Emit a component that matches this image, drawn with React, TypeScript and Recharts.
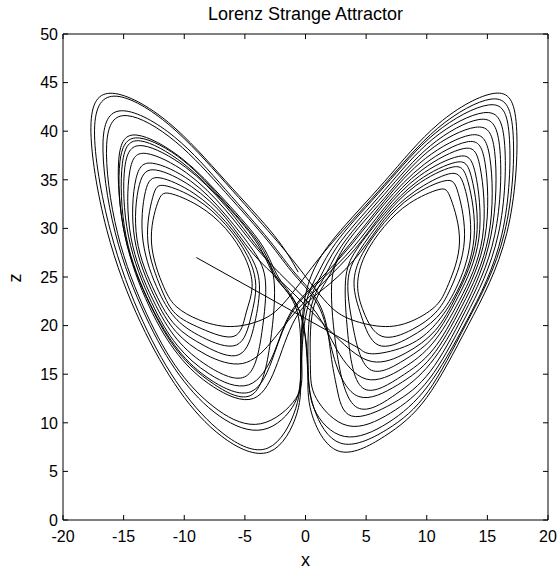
import React from "react";
import { LineChart, Line, XAxis, YAxis, ReferenceLine } from "recharts";

const TITLE = "Lorenz Strange Attractor";
const X_LABEL = "x";
const Z_LABEL = "z";
const xTicks = [-20, -15, -10, -5, 0, 5, 10, 15, 20];
const zTicks = [0, 5, 10, 15, 20, 25, 30, 35, 40, 45, 50];

// initial transient (straight jump)
const initialTransient: [number, number][] = [
  [-9.0, 27.0],
  [4.5, 17.6],
];

// trajectory, [x, z] in traversal order
const trajectory: [number, number][] = [
  [4.5, 17.6],
  // right
  [5.7, 17.1], [8.5, 18.0], [10.7, 20.1], [12.5, 23.5], [13.9, 29.0], [13.4, 34.8], [12.1, 36.3], [9.1, 34.4], [6.5, 31.2], [4.4, 27.6], [3.5, 24.5],
  [3.9, 20.0],
  [5.3, 15.5], [8.2, 16.5], [10.6, 18.9], [12.6, 23.0], [14.3, 29.0], [14.0, 35.7], [12.6, 37.4], [9.4, 35.4], [6.5, 31.8], [4.1, 27.9],
  [1.6, 24.6], [-0.9, 21.3], [-2.9, 18.2],
  // left
  [-5.2, 16.1], [-8.2, 17.0], [-10.7, 19.4], [-12.5, 23.1], [-14.1, 29.0], [-14.0, 35.0], [-12.6, 36.7], [-9.5, 34.9], [-6.6, 31.4], [-4.3, 27.7], [-3.3, 24.5],
  [-3.6, 19.3],
  [-4.9, 14.8], [-8.0, 15.8], [-10.6, 18.6], [-12.6, 22.7], [-14.4, 29.1], [-14.5, 35.8], [-13.1, 37.7], [-9.8, 35.7], [-6.6, 31.9], [-4.0, 27.9],
  [-1.5, 24.6], [0.9, 21.3], [2.6, 17.5],
  // right
  [5.0, 14.5], [8.0, 15.6], [10.5, 18.2], [12.7, 22.6], [14.6, 29.1], [14.4, 36.3], [13.0, 38.2], [9.6, 36.0], [6.5, 32.1], [3.9, 28.0],
  [1.3, 24.7], [-1.1, 21.4], [-2.6, 17.0],
  // left
  [-4.5, 13.2], [-7.8, 14.4], [-10.5, 17.5], [-12.8, 22.2], [-14.8, 29.2], [-15.1, 36.7], [-13.6, 39.0], [-10.1, 36.7], [-6.6, 32.5], [-3.8, 28.1], [-2.4, 24.8],
  [-0.5, 21.5], [0.15, 16.0], [0.7, 11.5],
  // right
  [2.9, 7.9], [6.7, 9.3], [10.1, 13.2], [13.3, 20.3], [16.4, 29.5], [17.1, 40.1], [15.3, 43.3], [10.9, 40.3], [6.5, 34.5], [2.6, 29.1],
  [0.3, 25.6], [-1.8, 22.3], [-3.6, 20.6],
  // left
  [-6.2, 19.9], [-8.8, 20.6], [-10.6, 21.9], [-11.7, 24.0], [-12.7, 28.5], [-12.2, 32.6], [-11.2, 33.6], [-8.8, 32.3], [-6.6, 30.0], [-5.0, 27.0], [-4.4, 24.0],
  [-4.9, 21.3],
  [-5.9, 18.9], [-8.6, 19.7], [-10.7, 21.2], [-11.9, 23.8], [-13.0, 28.6], [-12.6, 33.2], [-11.6, 34.4], [-9.0, 33.0], [-6.6, 30.4], [-4.8, 27.2], [-4.1, 24.1],
  [-4.5, 20.9],
  [-5.7, 18.0], [-8.5, 18.8], [-10.6, 20.6], [-12.1, 23.5], [-13.4, 28.7], [-13.2, 33.8], [-12.0, 35.2], [-9.2, 33.6], [-6.6, 30.7], [-4.6, 27.3], [-3.8, 24.2],
  [-4.2, 20.2],
  [-5.5, 17.0], [-8.3, 17.9], [-10.7, 20.0], [-12.4, 23.4], [-13.9, 28.9], [-13.7, 34.5], [-12.3, 36.0], [-9.4, 34.3], [-6.6, 31.1], [-4.4, 27.5],
  [-1.9, 24.4], [0.6, 21.3], [2.9, 18.4],
  // right
  [5.5, 16.3], [8.3, 17.2], [10.7, 19.5], [12.5, 23.2], [14.1, 29.0], [13.7, 35.2], [12.4, 36.8], [9.3, 34.9], [6.5, 31.5], [4.2, 27.8], [3.3, 24.6],
  [3.5, 19.0],
  [4.7, 13.6], [7.8, 14.7], [10.5, 17.5], [12.8, 22.3], [14.8, 29.1], [14.8, 36.8], [13.3, 38.9], [9.8, 36.6], [6.5, 32.5], [3.7, 28.2],
  [1.2, 24.8], [-1.2, 21.4], [-2.6, 17.2],
  // left
  [-4.7, 13.9], [-7.9, 15.0], [-10.6, 18.0], [-12.7, 22.4], [-14.6, 29.2], [-14.9, 36.3], [-13.4, 38.5], [-9.9, 36.3], [-6.6, 32.3], [-3.9, 28.0], [-2.6, 24.7],
  [-2.9, 18.3],
  [-4.4, 12.9], [-7.7, 14.1], [-10.5, 17.3], [-12.8, 22.1], [-14.9, 29.3], [-15.3, 36.9], [-13.7, 39.3], [-10.1, 37.0], [-6.6, 32.6], [-3.7, 28.2], [-2.3, 24.8],
  [-0.7, 21.5], [-0.4, 16.0], [-0.8, 11.5],
  [-3.1, 7.4], [-6.8, 8.9], [-10.3, 13.6], [-13.4, 20.4], [-16.1, 29.8], [-17.4, 40.1], [-15.6, 43.6], [-11.2, 40.6], [-6.6, 34.7], [-2.7, 29.2],
  [-0.4, 25.7], [1.8, 22.3], [3.8, 20.6],
  // right
  [6.6, 19.9], [9.0, 20.6], [10.8, 22.1], [11.8, 24.3], [12.7, 28.6], [12.0, 33.0], [11.0, 34.0], [8.6, 32.6], [6.5, 30.2], [4.9, 27.2], [4.3, 24.2],
  [4.8, 21.4],
  [6.3, 18.9], [8.8, 19.6], [10.7, 21.3], [12.0, 23.9], [13.1, 28.7], [12.6, 33.6], [11.5, 34.9], [8.8, 33.3], [6.5, 30.6], [4.7, 27.4], [4.0, 24.3],
  [4.6, 21.0],
  [6.0, 18.0], [8.6, 18.8], [10.8, 20.8], [12.4, 23.8], [13.6, 28.9], [13.1, 34.3], [11.8, 35.6], [9.0, 33.8], [6.5, 30.9], [4.5, 27.5],
  [2.0, 24.3], [-0.6, 21.2], [-2.3, 16.2],
  // left
  [-4.3, 12.5], [-7.6, 13.7], [-10.5, 17.0], [-12.9, 22.0], [-14.9, 29.3], [-15.4, 37.1], [-13.9, 39.6], [-10.2, 37.2], [-6.6, 32.8], [-3.6, 28.3], [-2.2, 24.9],
  [-0.5, 21.5], [0.2, 16.0], [0.7, 11.5],
  // right
  [3.2, 8.6], [6.8, 10.0], [10.1, 13.8], [13.3, 20.5], [16.2, 29.4], [16.8, 39.6], [15.1, 42.7], [10.7, 39.8], [6.5, 34.3], [2.8, 29.0], [1.0, 25.3],
  [-0.1, 21.5], [-0.3, 16.0], [-0.8, 12.5],
  // left
  [-3.7, 9.9], [-7.2, 11.3], [-10.4, 15.3], [-13.1, 21.2], [-15.5, 29.5], [-16.4, 38.6], [-14.7, 41.6], [-10.7, 38.9], [-6.6, 33.7], [-3.1, 28.7],
  [-0.9, 25.2], [1.2, 21.7], [2.4, 16.5],
  // right
  [4.4, 12.7], [7.6, 13.9], [10.4, 16.8], [12.9, 22.0], [15.1, 29.2], [15.2, 37.3], [13.6, 39.6], [9.9, 37.2], [6.5, 32.8], [3.6, 28.3], [2.2, 24.9],
  [2.5, 18.0],
  [4.1, 11.7], [7.4, 12.9], [10.3, 16.1], [13.0, 21.6], [15.3, 29.3], [15.6, 37.9], [14.0, 40.4], [10.1, 37.9], [6.5, 33.1], [3.4, 28.5], [1.9, 25.0],
  [0.6, 21.5], [0.4, 16.0], [0.9, 12.5],
  [3.5, 9.7], [7.0, 11.0], [10.2, 14.5], [13.2, 20.9], [15.9, 29.4], [16.4, 39.0], [14.7, 41.9], [10.5, 39.2], [6.5, 33.9], [3.0, 28.8], [1.3, 25.2],
  [0.1, 21.5], [-0.35, 16.0], [-0.9, 12.0],
  // left
  [-3.5, 9.3], [-7.1, 10.7], [-10.4, 14.9], [-13.2, 21.0], [-15.7, 29.6], [-16.7, 38.9], [-15.0, 42.1], [-10.8, 39.4], [-6.6, 34.0], [-3.0, 28.8],
  [-0.8, 25.3], [1.3, 21.8], [2.1, 17.0], [2.6, 13.5],
  // right
  [3.8, 10.7], [7.2, 12.0], [10.3, 15.3], [13.1, 21.3], [15.6, 29.3], [16.0, 38.5], [14.3, 41.2], [10.3, 38.5], [6.5, 33.5], [3.2, 28.6], [1.6, 25.1],
  [0.4, 21.5], [0.2, 15.5], [0.5, 11.0],
  [2.7, 7.1], [6.5, 8.6], [10.0, 12.6], [13.4, 20.0], [16.6, 29.5], [17.4, 40.5], [15.6, 43.9], [11.0, 40.8], [6.5, 34.8], [2.5, 29.2], [0.6, 25.5],
  [-0.2, 21.5], [-0.4, 15.5], [-0.7, 11.0],
  // left
  [-3.0, 7.0], [-6.9, 8.6], [-10.4, 13.3], [-13.6, 20.3], [-16.4, 29.9], [-17.7, 40.4], [-15.9, 43.9], [-11.3, 40.9], [-6.6, 34.9], [-2.6, 29.3], [-0.6, 25.5],
];

const toRows = (pts: [number, number][]) => pts.map(([x, z]) => ({ x, z }));
const transientRows = toRows(initialTransient);
const trajectoryRows = toRows(trajectory);

const W = 558;
const H = 571;
const PLOT_LEFT = 63;
const PLOT_RIGHT = 548;
const PLOT_TOP = 34;
const PLOT_BOTTOM = 520;
const FONT = "'Liberation Sans', Arial, Helvetica, sans-serif";
const TICK_LEN = 5;

const XTick = (props: any) => {
  const { x, payload } = props;
  return (
    <g>
      <line x1={x} x2={x} y1={PLOT_BOTTOM} y2={PLOT_BOTTOM - TICK_LEN} stroke="#000" strokeWidth={1} />
      <line x1={x} x2={x} y1={PLOT_TOP} y2={PLOT_TOP + TICK_LEN} stroke="#000" strokeWidth={1} />
      <text x={x} y={542} textAnchor="middle" fontSize={16} fontFamily={FONT} fill="#000">
        {String(payload.value)}
      </text>
    </g>
  );
};

const YTick = (props: any) => {
  const { y, payload } = props;
  return (
    <g>
      <line x1={PLOT_LEFT} x2={PLOT_LEFT + TICK_LEN} y1={y} y2={y} stroke="#000" strokeWidth={1} />
      <line x1={PLOT_RIGHT} x2={PLOT_RIGHT - TICK_LEN} y1={y} y2={y} stroke="#000" strokeWidth={1} />
      <text x={58} y={y} dy={5.7} textAnchor="end" fontSize={16} fontFamily={FONT} fill="#000">
        {String(payload.value)}
      </text>
    </g>
  );
};

export default function App() {
  return (
    <div style={{ position: "absolute", left: 0, top: 0, width: W, height: H, background: "#fff" }}>
      <LineChart
        width={W}
        height={H}
        margin={{ top: PLOT_TOP, right: W - PLOT_RIGHT, bottom: 0, left: 0 }}
      >
        <XAxis
          type="number"
          dataKey="x"
          domain={[-20, 20]}
          ticks={xTicks}
          allowDataOverflow
          height={H - PLOT_BOTTOM}
          axisLine={{ stroke: "#000", strokeWidth: 1 }}
          tickLine={false}
          tick={<XTick />}
          interval={0}
        />
        <YAxis
          type="number"
          dataKey="z"
          domain={[0, 50]}
          ticks={zTicks}
          allowDataOverflow
          width={PLOT_LEFT}
          axisLine={{ stroke: "#000", strokeWidth: 1 }}
          tickLine={false}
          tick={<YTick />}
          interval={0}
        />
        <ReferenceLine y={50} stroke="#000" strokeWidth={1} />
        <ReferenceLine x={20} stroke="#000" strokeWidth={1} />
        <Line
          data={transientRows}
          dataKey="z"
          type="linear"
          dot={false}
          activeDot={false}
          stroke="#000"
          strokeWidth={1}
          isAnimationActive={false}
        />
        <Line
          data={trajectoryRows}
          dataKey="z"
          type="natural"
          dot={false}
          activeDot={false}
          stroke="#000"
          strokeWidth={1}
          isAnimationActive={false}
        />
      </LineChart>
      <svg
        width={W}
        height={H}
        style={{ position: "absolute", left: 0, top: 0, pointerEvents: "none" }}
      >
        <text x={(PLOT_LEFT + PLOT_RIGHT) / 2} y={20} textAnchor="middle" fontSize={18} fontFamily={FONT} fill="#000">
          {TITLE}
        </text>
        <text x={(PLOT_LEFT + PLOT_RIGHT) / 2} y={566} textAnchor="middle" fontSize={18} fontFamily={FONT} fill="#000">
          {X_LABEL}
        </text>
        <text
          x={20.7}
          y={278}
          textAnchor="middle"
          fontSize={18}
          fontFamily={FONT}
          fill="#000"
          transform="rotate(-90, 20.7, 278)"
        >
          {Z_LABEL}
        </text>
      </svg>
    </div>
  );
}
